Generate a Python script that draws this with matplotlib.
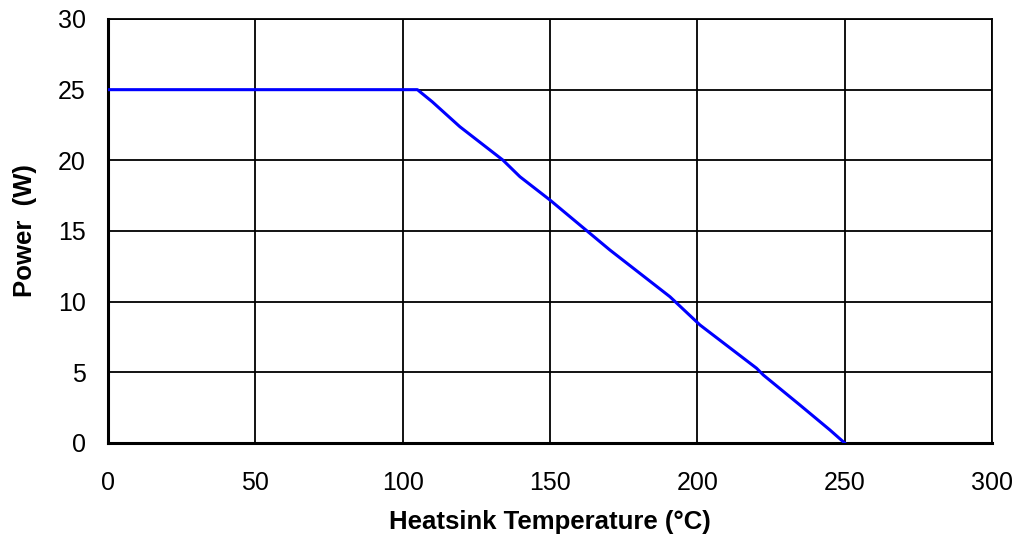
import matplotlib
matplotlib.use("Agg")
import matplotlib.pyplot as plt

temp_c = [0, 105, 110, 119.4, 134, 139.8, 150, 170.3, 190.7, 200.9, 220.1, 222.4, 234.8, 245, 250]
power_w = [25, 25, 24.15, 22.38, 20.02, 18.84, 17.19, 13.66, 10.35, 8.35, 5.29, 4.81, 2.69, 0.92, 0]
x_ticks = [0, 50, 100, 150, 200, 250, 300]
y_ticks = [0, 5, 10, 15, 20, 25, 30]

plt.rcParams['font.family'] = ['Liberation Sans', 'DejaVu Sans']

fig = plt.figure(figsize=(10.18, 5.38), dpi=100)
ax = fig.add_axes([108/1018, 95/538, 884/1018, 424/538])
ax.set_xlim(0, 300)
ax.set_ylim(0, 30)
ax.set_xticks(x_ticks)
ax.set_yticks(y_ticks)
ax.grid(True, color='black', linewidth=1.3)
ax.set_axisbelow(True)
ax.plot(temp_c, power_w, color='#0000ff', linewidth=2.2, zorder=3)

for s in ['top', 'right']:
    ax.spines[s].set_linewidth(1.3)
for s in ['left', 'bottom']:
    ax.spines[s].set_linewidth(2.2)

ax.tick_params(axis='both', length=0, labelsize=18)
ax.tick_params(axis='x', pad=20)
ax.tick_params(axis='y', pad=16)
ax.set_xlabel('Heatsink Temperature (°C)', fontsize=18.5, fontweight='bold', labelpad=11)
ax.set_ylabel('Power  (W)', fontsize=18.5, fontweight='bold', labelpad=15)

fig.savefig('out.png', dpi=100)
